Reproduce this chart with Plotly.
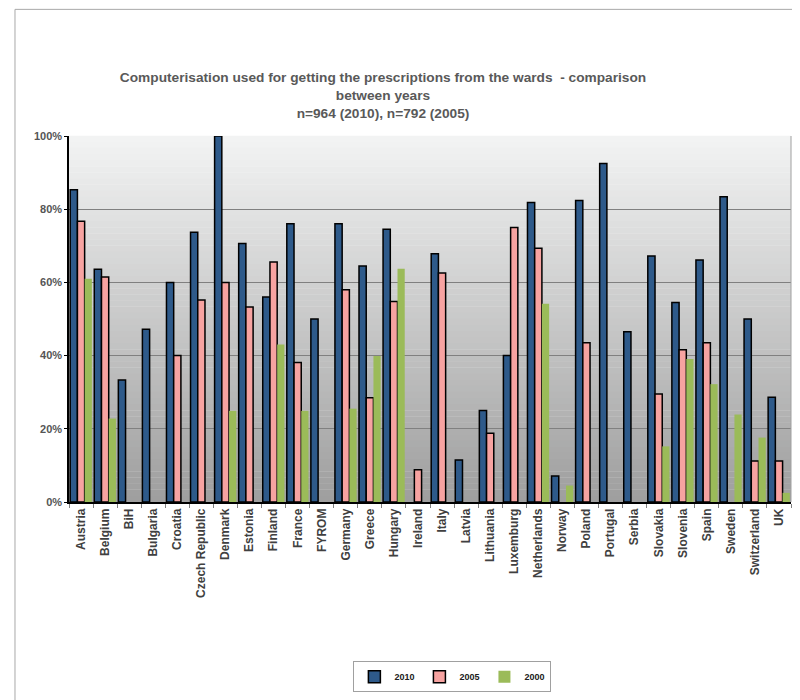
import plotly.graph_objects as go

countries = ["Austria", "Belgium", "BiH", "Bulgaria", "Croatia", "Czech Republic", "Denmark",
             "Estonia", "Finland", "France", "FYROM", "Germany", "Greece", "Hungary", "Ireland",
             "Italy", "Latvia", "Lithuania", "Luxemburg", "Netherlands", "Norway", "Poland",
             "Portugal", "Serbia", "Slovakia", "Slovenia", "Spain", "Sweden", "Switzerland", "UK"]

v2010 = [85.3, 63.6, 33.3, 47.2, 60.0, 73.7, 100.0, 70.6, 56.0, 76.0, 50.0, 76.0, 64.5, 74.5, None,
         67.8, 11.5, 25.0, 40.0, 81.8, 7.1, 82.4, 92.5, 46.5, 67.2, 54.5, 66.1, 83.4, 50.0, 28.6]
v2005 = [76.7, 61.5, None, None, 40.0, 55.2, 60.0, 53.3, 65.6, 38.1, None, 58.0, 28.5, 54.8, 8.8,
         62.6, None, 18.8, 75.0, 69.3, None, 43.5, None, None, 29.5, 41.6, 43.5, None, 11.2, 11.2]
v2000 = [61.0, 22.8, None, None, None, None, 24.9, None, 43.0, 24.9, None, 25.5, 39.9, 63.7, None,
         None, None, None, None, 54.2, 4.5, None, None, None, 15.2, 39.1, 32.2, 23.9, 17.6, 2.5]

series_names = ["2010", "2005", "2000"]
y_ticks = [0, 20, 40, 60, 80, 100]
y_tick_labels = ["0%", "20%", "40%", "60%", "80%", "100%"]

colors = ["#2E5A8A", "#F7A3A1", "#9BBB59"]
line_widths = [1.5, 1.5, 0]
FONT = "Liberation Sans, Arial, sans-serif"

fig = go.Figure()
for name, vals, col, lw in zip(series_names, [v2010, v2005, v2000], colors, line_widths):
    fig.add_trace(go.Bar(
        x=countries, y=vals, name=name,
        marker=dict(color=col, line=dict(color="#000000", width=lw)),
    ))

# gradient background strips
shapes = []
n = 60
top = (243, 244, 244)
bot = (158, 158, 158)
for i in range(n):
    t = (i + 0.5) / n
    c = tuple(int(round(top[k] + (bot[k] - top[k]) * t)) for k in range(3))
    shapes.append(dict(type="rect", xref="x domain", yref="y domain",
                       x0=0, x1=1, y0=1 - (i + 1) / n, y1=1 - i / n + 0.001,
                       fillcolor="rgb(%d,%d,%d)" % c, line=dict(width=0), layer="below"))
shapes.append(dict(type="line", xref="x domain", yref="y domain", x0=1, x1=1, y0=0, y1=1,
                   line=dict(color="#A0A0A0", width=1)))
# outer chart-area frame (left and top edges visible)
shapes.append(dict(type="line", xref="paper", yref="paper", x0=-0.0748, x1=-0.0748,
                   y0=-0.6, y1=1.346, line=dict(color="#A8A8A8", width=1)))
shapes.append(dict(type="line", xref="paper", yref="paper", x0=-0.0748, x1=1.02,
                   y0=1.346, y1=1.346, line=dict(color="#A8A8A8", width=1)))

fig.update_layout(
    width=792, height=692,
    paper_bgcolor="white", plot_bgcolor="rgba(0,0,0,0)",
    margin=dict(l=61, r=9, t=128, b=197),
    barmode="group", bargap=0.1, bargroupgap=0,
    font=dict(family=FONT, color="#404040"),
    title=dict(
        text="<b>Computerisation used for getting the prescriptions from the wards  - comparison<br>between years<br>n=964 (2010), n=792 (2005)</b>",
        x=0.4735, xanchor="center", y=0.893, yanchor="top",
        font=dict(size=13.7, color="#595959", family=FONT),
    ),
    shapes=shapes,
    legend=dict(orientation="h", x=0.531, xanchor="center", y=-0.431, yanchor="top",
                bordercolor="#A0A0A0", borderwidth=1, bgcolor="white",
                font=dict(size=9, color="#202020", family=FONT, weight="bold"),
                traceorder="normal", itemwidth=30, tracegroupgap=0),
)
fig.update_xaxes(
    tickangle=-90, tickfont=dict(size=12, color="#404040", family=FONT, weight="bold"),
    showline=True, linecolor="#000000", linewidth=1.5,
    ticks="outside", tickson="boundaries", ticklen=4, tickcolor="#808080",
    showgrid=False,
)
fig.update_yaxes(
    range=[0, 100], tickvals=y_ticks, ticktext=y_tick_labels,
    tickfont=dict(size=11, color="#555555", family=FONT, weight="bold"),
    showline=True, linecolor="#000000", linewidth=1.5,
    ticks="outside", ticklen=3, tickcolor="#000000",
    showgrid=True, gridcolor="#808080", gridwidth=1, zeroline=False,
)

fig.write_html("out.html")
